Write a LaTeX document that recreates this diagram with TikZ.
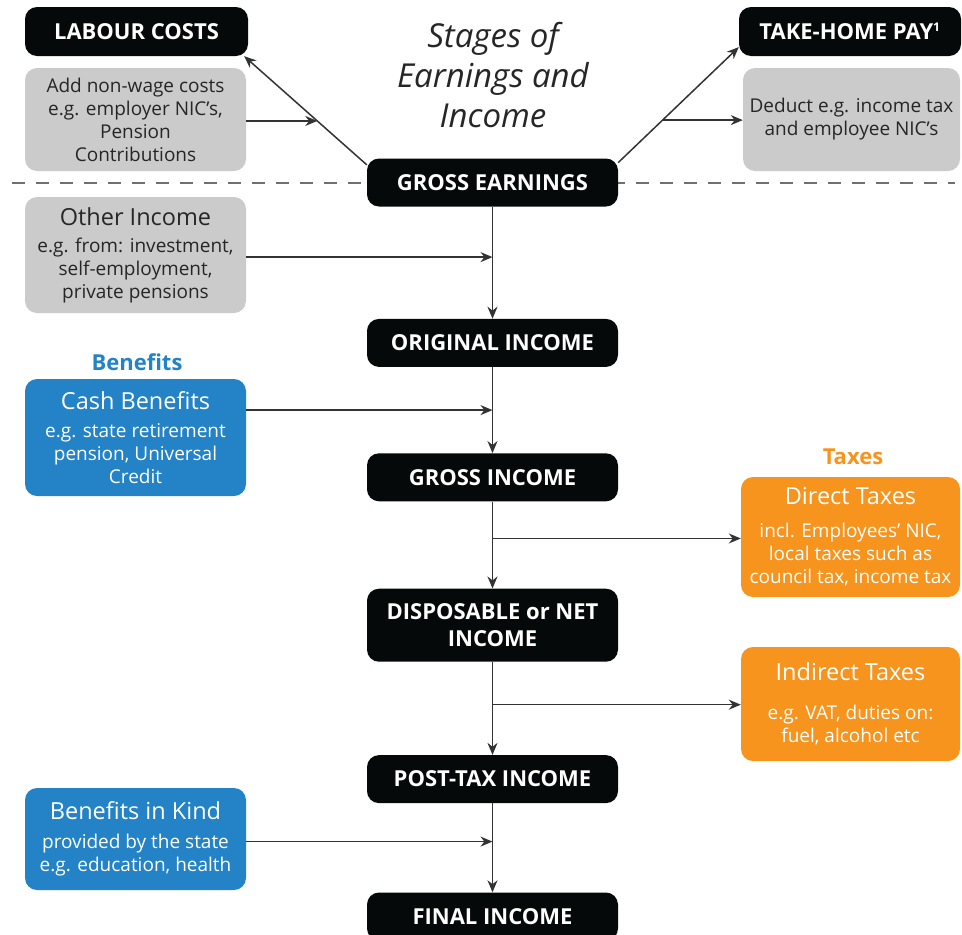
\documentclass[tikz,border=0pt]{standalone}
\usepackage{fontspec}
\setmainfont{Open Sans}
\usetikzlibrary{positioning, arrows.meta}
\definecolor{stageblack}{HTML}{060909}
\definecolor{notegray}{HTML}{CBCBCB}
\definecolor{benblue}{HTML}{2383C6}
\definecolor{taxorange}{HTML}{F6941E}
\definecolor{linegray}{HTML}{333333}
\definecolor{dashgray}{HTML}{707070}
\newcommand{\ttl}{\fontsize{23.5}{27}\selectfont}
\tikzset{>={Stealth[length=12pt,width=10pt]},
stage/.style={fill=stageblack, text=white, rounded corners=12pt, minimum width=251pt,
  minimum height=48pt, inner sep=0pt, align=center, font=\fontsize{22}{26}\selectfont\bfseries},
note/.style={fill=notegray, text=black!85, rounded corners=12pt, inner sep=0pt,
  align=center, font=\fontsize{19}{23}\selectfont},
benbox/.style={note, fill=benblue, text=white},
taxbox/.style={note, fill=taxorange, text=white},
grouplbl/.style={font=\fontsize{22}{26}\selectfont\bfseries},
flow/.style={->, draw=linegray, line width=1.5pt},
}

\begin{document}
\begin{tikzpicture}[x=1pt, y=-1pt]
\useasboundingbox (0,0) rectangle (962,935);
% divider between earnings and income
\draw[dashgray, line width=2.2pt, dash pattern=on 13pt off 11pt] (12,183) -- (955,183);
\node[font=\fontsize{33}{40}\selectfont\itshape, text=black!85, align=center] (title) at (493,75)
  {Stages of\\Earnings and\\Income};
% main column
    \node[stage] (gearn) at (492.5,182.5) {GROSS EARNINGS};
    \node[stage, below=112pt of gearn] (orig) {ORIGINAL INCOME};
    \node[stage, below=86pt of orig] (gross) {GROSS INCOME};
    \node[stage, minimum height=73pt, below=87pt of gross] (disp) {DISPOSABLE or NET\\[1pt]INCOME};
    \node[stage, below=93pt of disp] (post) {POST-TAX INCOME};
    \node[stage, below=89pt of post] (final) {FINAL INCOME};
% earnings side boxes
    \node[stage, minimum width=223pt, minimum height=49pt] (labour) at (136.5,31.5) {LABOUR COSTS};
    \node[note, minimum width=221pt, minimum height=103pt] (addcost) at (135.5,119.5)
      {Add non-wage costs\\e.g. employer NIC’s,\\Pension\\Contributions};
    \node[stage, minimum width=222pt, minimum height=49pt] (takehome) at (850,31.5) {TAKE-HOME PAY\textsuperscript{\fontsize{12}{12}\selectfont 1}};
    \node[note, minimum width=217pt, minimum height=103pt] (deduct) at (851.5,119.5)
      {Deduct e.g. income tax\\and employee NIC’s};
% income side boxes
    \node[note, minimum width=221pt, minimum height=116pt] (other) at (135.5,255)
      {{\ttl Other Income}\\[4pt]e.g. from: investment,\\self-employment,\\private pensions};
    \node[grouplbl, text=benblue] (benlbl) at (137,362) {Benefits};
    \node[benbox, minimum width=221pt, minimum height=117pt] (cash) at (135.5,437.5)
      {{\ttl Cash Benefits}\\[5pt]e.g. state retirement\\pension, Universal\\Credit};
    \node[grouplbl, text=taxorange] (taxlbl) at (853,457) {Taxes};
    \node[taxbox, minimum width=219pt, minimum height=120pt] (direct) at (850.5,537)
      {{\ttl Direct Taxes}\\[10pt]incl. Employees’ NIC,\\local taxes such as\\council tax, income tax};
    \node[taxbox, minimum width=219pt, minimum height=114pt] (indirect) at (850.5,704)
      {{\ttl Indirect Taxes}\\[16pt]e.g. VAT, duties on:\\fuel, alcohol etc};
    \node[benbox, minimum width=221pt, minimum height=102pt] (kind) at (135.5,839)
      {{\ttl Benefits in Kind}\\[6pt]provided by the state\\e.g. education, health};
% earnings branches
    \draw[flow] (gearn.172) -- coordinate[pos=0.404] (lmeet) ([xshift=-4pt]labour.south east);
    \draw[flow] (addcost.east |- lmeet) -- (lmeet);
    \draw[flow] (gearn.9) -- coordinate[pos=0.368] (rmeet) (takehome.188);
    \draw[flow] (rmeet) -- (deduct.west |- rmeet);
% income flow
    \draw[flow] (gearn) -- coordinate[pos=0.45] (omeet) (orig);
    \draw[flow] (other.east |- omeet) -- (omeet);
    \draw[flow] (orig) -- coordinate[midway] (cmeet) (gross);
    \draw[flow] (cash.east |- cmeet) -- (cmeet);
    \draw[flow] (gross) -- coordinate[pos=0.425] (dmeet) (disp);
    \draw[flow] (dmeet) -- (direct.west |- dmeet);
    \draw[flow] (disp) -- coordinate[pos=0.46] (imeet) (post);
    \draw[flow] (imeet) -- (indirect.west |- imeet);
    \draw[flow] (post) -- coordinate[pos=0.43] (kmeet) (final);
    \draw[flow] (kind.east |- kmeet) -- (kmeet);
\end{tikzpicture}
\end{document}
